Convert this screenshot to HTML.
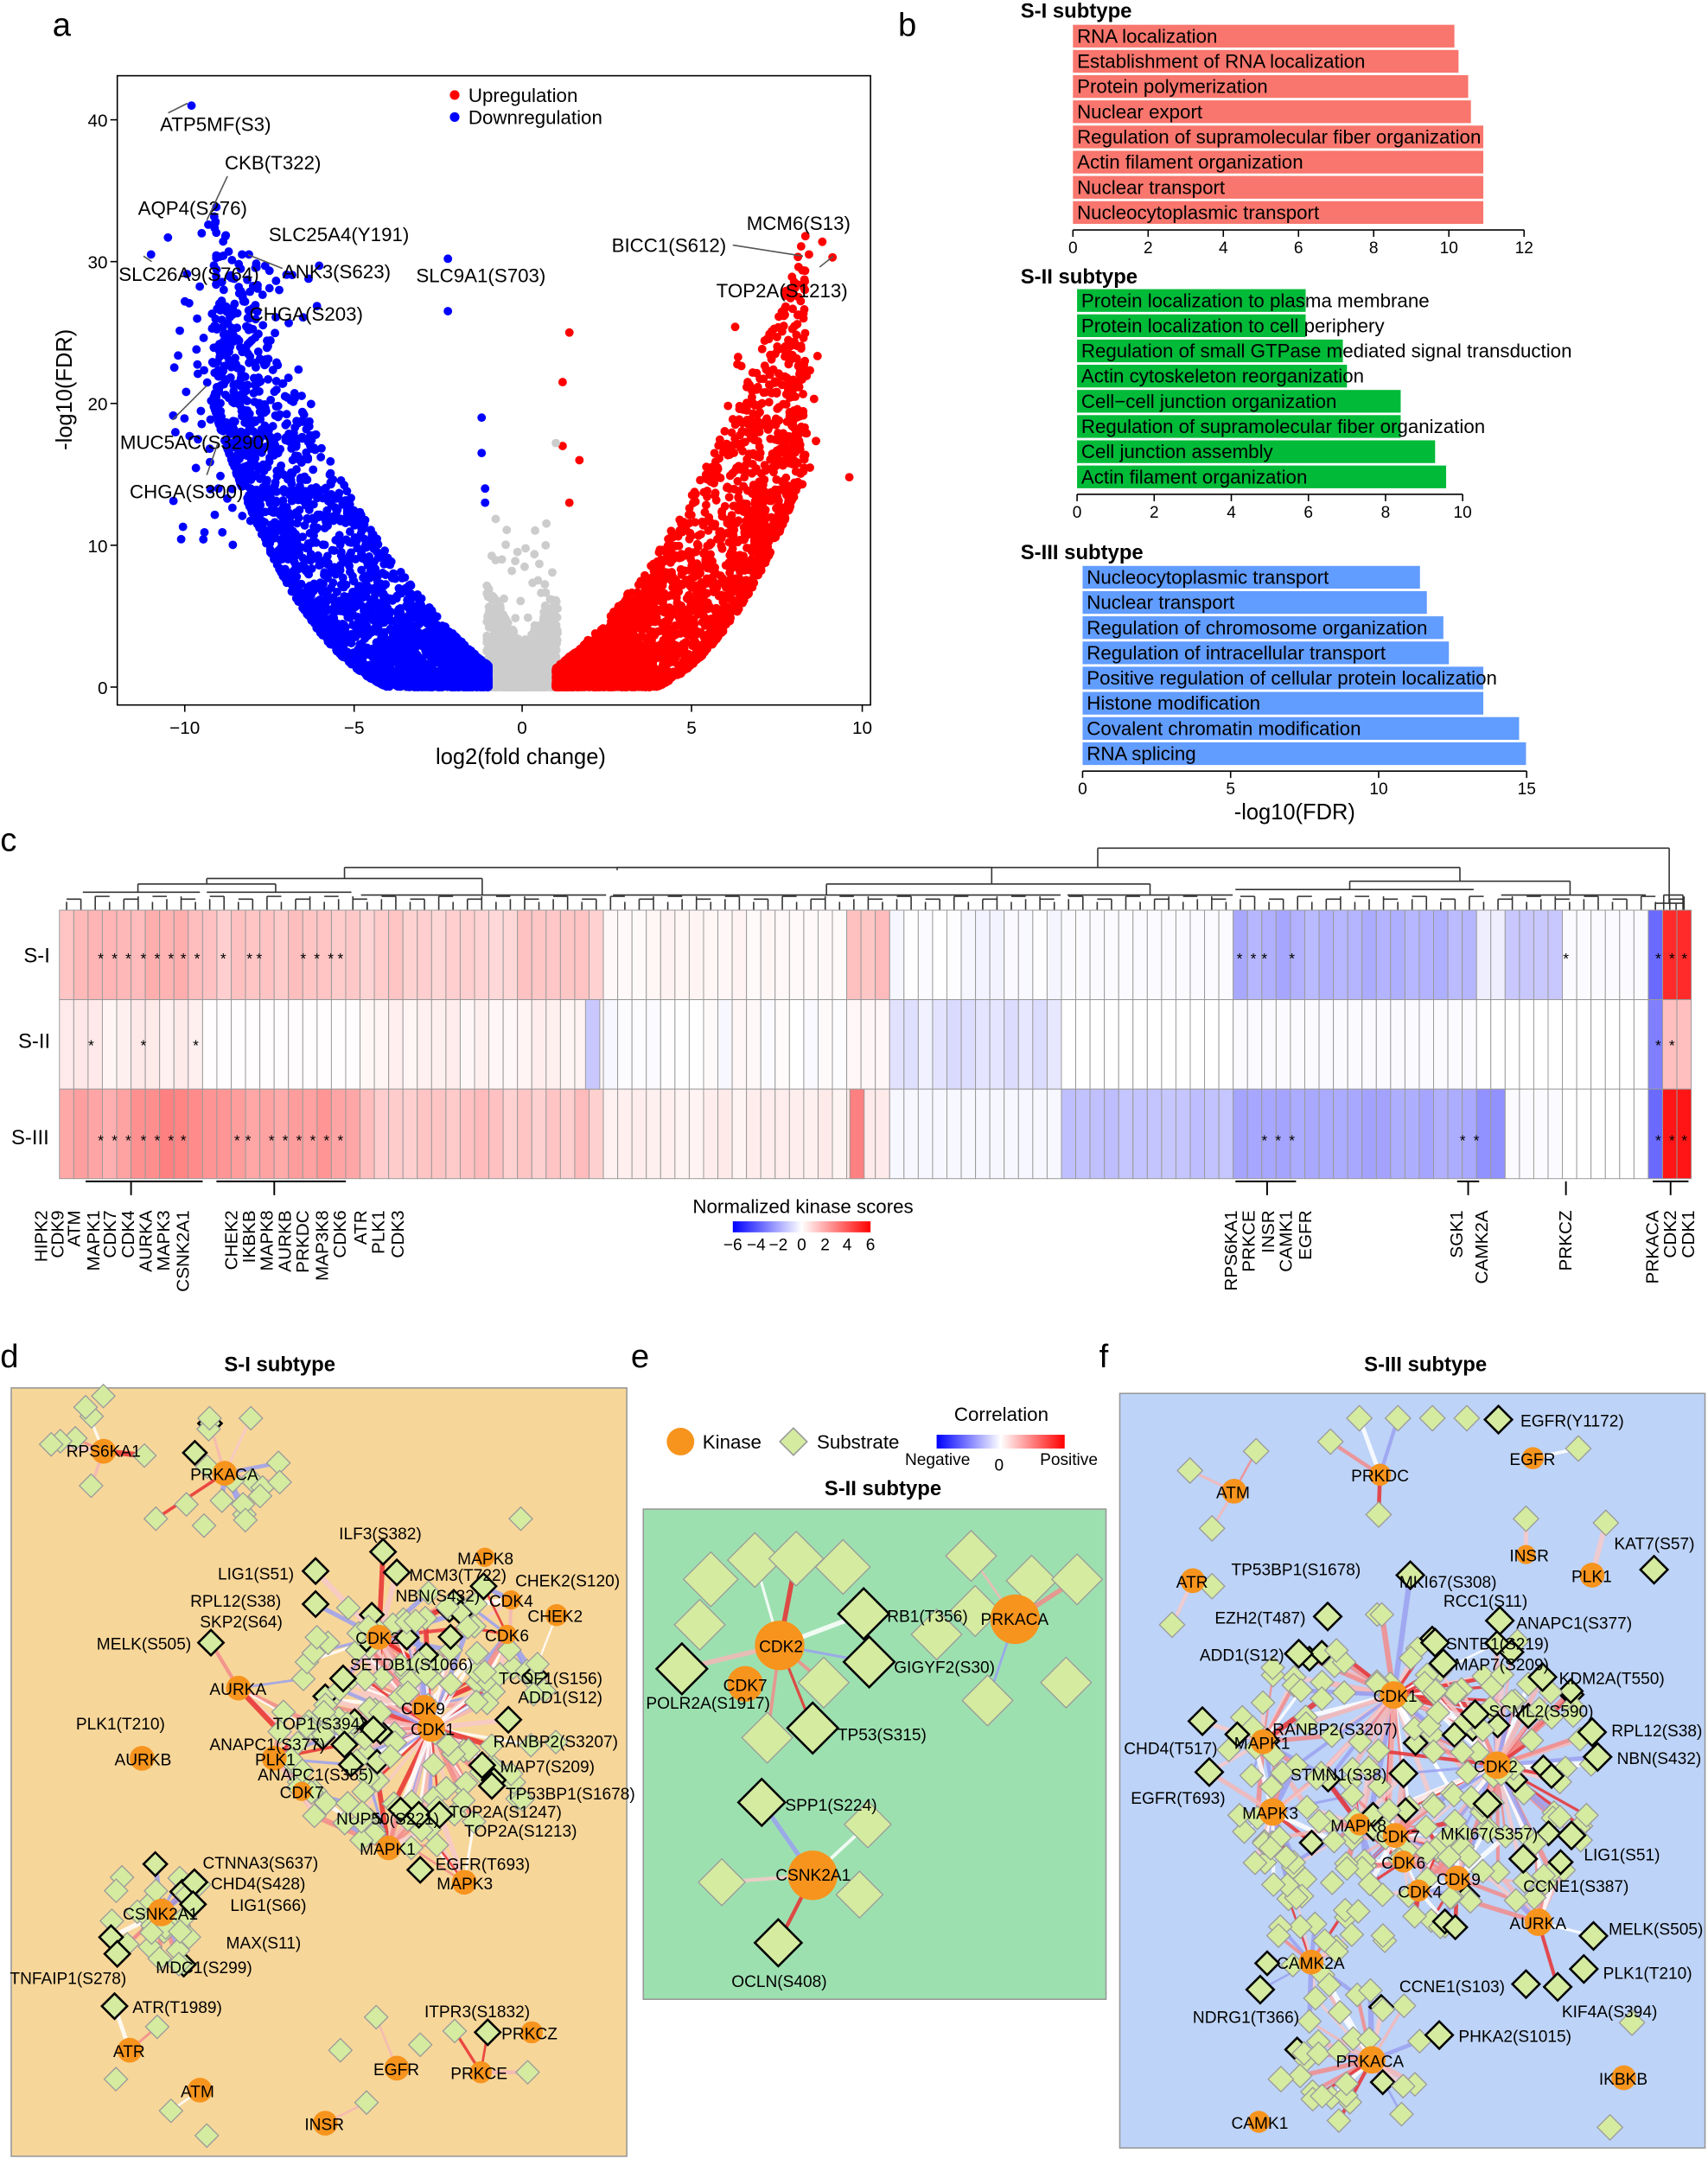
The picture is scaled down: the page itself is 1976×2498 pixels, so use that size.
<!DOCTYPE html>
<html><head><meta charset="utf-8"><style>
html,body{margin:0;padding:0;background:#fff}
svg{display:block}
text{font-family:"Liberation Sans",Arial,sans-serif;fill:#000}
</style></head><body>
<svg id="s" width="1976" height="2498" viewBox="0 0 1240 1568" xmlns="http://www.w3.org/2000/svg">
<defs>
<linearGradient id="hg" x1="0" x2="1"><stop offset="0" stop-color="#0000ff"/><stop offset="0.5" stop-color="#ffffff"/><stop offset="1" stop-color="#ff0000"/></linearGradient>
</defs>
<rect width="1240" height="1568" fill="#fff"/>
<g font-size="24"><text x="38" y="26">a</text><text x="652" y="26">b</text><text x="0" y="618">c</text><text x="0" y="993">d</text><text x="458" y="993">e</text><text x="798" y="993">f</text></g>

<g id="volc"></g>
<rect x="85" y="55" width="547" height="457" fill="none" stroke="#000" stroke-width="1"/>
<g font-size="13" text-anchor="middle">
<line x1="134" y1="512" x2="134" y2="517" stroke="#000"/><text x="134" y="533">−10</text>
<line x1="257" y1="512" x2="257" y2="517" stroke="#000"/><text x="257" y="533">−5</text>
<line x1="379" y1="512" x2="379" y2="517" stroke="#000"/><text x="379" y="533">0</text>
<line x1="502" y1="512" x2="502" y2="517" stroke="#000"/><text x="502" y="533">5</text>
<line x1="626" y1="512" x2="626" y2="517" stroke="#000"/><text x="626" y="533">10</text>
</g>
<g font-size="13" text-anchor="end">
<line x1="80" y1="499" x2="85" y2="499" stroke="#000"/><text x="78" y="504">0</text>
<line x1="80" y1="396" x2="85" y2="396" stroke="#000"/><text x="78" y="401">10</text>
<line x1="80" y1="293" x2="85" y2="293" stroke="#000"/><text x="78" y="298">20</text>
<line x1="80" y1="190" x2="85" y2="190" stroke="#000"/><text x="78" y="195">30</text>
<line x1="80" y1="87" x2="85" y2="87" stroke="#000"/><text x="78" y="92">40</text>
</g>
<text x="378" y="555" font-size="16" text-anchor="middle">log2(fold change)</text>
<text transform="translate(52,283) rotate(-90)" font-size="16" text-anchor="middle">-log10(FDR)</text>
<circle cx="330" cy="69" r="3.5" fill="#f00"/><text x="340" y="74" font-size="14">Upregulation</text>
<circle cx="330" cy="85" r="3.5" fill="#00f"/><text x="340" y="90" font-size="14">Downregulation</text>
<g font-size="14">
<text x="116" y="95">ATP5MF(S3)</text><text x="163" y="123">CKB(T322)</text><text x="100" y="156">AQP4(S276)</text>
<text x="195" y="175">SLC25A4(Y191)</text><text x="86" y="204">SLC26A9(S764)</text><text x="205" y="202">ANK3(S623)</text>
<text x="302" y="205">SLC9A1(S703)</text><text x="181" y="233">CHGA(S203)</text><text x="87" y="326">MUC5AC(S3290)</text>
<text x="94" y="362">CHGA(S300)</text><text x="542" y="167">MCM6(S13)</text><text x="444" y="183">BICC1(S612)</text>
<text x="520" y="216">TOP2A(S1213)</text>
</g>
<g stroke="#555" stroke-width="1">
<line x1="122" y1="82" x2="136" y2="75"/><line x1="165" y1="128" x2="150" y2="160"/><line x1="532" y1="178" x2="583" y2="186"/>
<line x1="595" y1="194" x2="605" y2="186"/><line x1="110" y1="190" x2="104" y2="186"/><line x1="125" y1="305" x2="150" y2="280"/>
<line x1="150" y1="345" x2="158" y2="322"/><line x1="205" y1="195" x2="180" y2="185"/>
</g>

<g font-size="15" font-weight="bold"><text x="741" y="13">S-I subtype</text><text x="741" y="206">S-II subtype</text><text x="741" y="406">S-III subtype</text></g>
<g id="bars"></g>
<text x="940" y="595" font-size="16" text-anchor="middle">-log10(FDR)</text>

<g id="dendro" stroke="#333" stroke-width="1" fill="none"></g>
<g id="heat"></g>
<g font-size="15"><text x="17" y="699">S-I</text><text x="13" y="761">S-II</text><text x="8" y="831">S-III</text></g>
<g id="stars" font-size="11" text-anchor="middle"></g>
<text x="583" y="881" font-size="14" text-anchor="middle">Normalized kinase scores</text>
<rect x="532" y="887" width="100" height="8" fill="url(#hg)"/>
<g font-size="12" text-anchor="middle"><text x="532" y="908">−6</text><text x="549" y="908">−4</text><text x="565" y="908">−2</text><text x="582" y="908">0</text><text x="599" y="908">2</text><text x="615" y="908">4</text><text x="632" y="908">6</text></g>
<g id="klab" font-size="13" text-anchor="end"></g>
<g stroke="#000" stroke-width="1.2">
<line x1="62" y1="858" x2="147" y2="858"/><line x1="95" y1="858" x2="95" y2="868"/>
<line x1="157" y1="858" x2="251" y2="858"/><line x1="199" y1="858" x2="199" y2="868"/>
<line x1="897" y1="858" x2="941" y2="858"/><line x1="920" y1="858" x2="920" y2="868"/>
<line x1="1058" y1="858" x2="1074" y2="858"/><line x1="1066" y1="858" x2="1066" y2="868"/>
<line x1="1137" y1="858" x2="1137" y2="868"/>
<line x1="1200" y1="858" x2="1226" y2="858"/><line x1="1213" y1="858" x2="1213" y2="868"/>
</g>

<text x="203" y="996" font-size="15" font-weight="bold" text-anchor="middle">S-I subtype</text>
<rect x="8" y="1008" width="447" height="558" fill="#f7d699" stroke="#999"/>
<g id="netd"></g>
<g font-size="12">
<text x="48" y="1058">RPS6KA1</text><text x="138" y="1075">PRKACA</text><text x="246" y="1118">ILF3(S382)</text><text x="332" y="1136">MAPK8</text>
<text x="158" y="1147">LIG1(S51)</text><text x="297" y="1148">MCM3(T722)</text><text x="374" y="1152">CHEK2(S120)</text><text x="138" y="1167">RPL12(S38)</text>
<text x="287" y="1163">NBN(S432)</text><text x="355" y="1167">CDK4</text><text x="145" y="1182">SKP2(S64)</text><text x="383" y="1178">CHEK2</text>
<text x="258" y="1194">CDK2</text><text x="352" y="1192">CDK6</text><text x="70" y="1198">MELK(S505)</text><text x="254" y="1213">SETDB1(S1066)</text>
<text x="152" y="1231">AURKA</text><text x="362" y="1223">TCOF1(S156)</text><text x="376" y="1237">ADD1(S12)</text><text x="291" y="1245">CDK9</text>
<text x="198" y="1256">TOP1(S394)</text><text x="298" y="1260">CDK1</text><text x="55" y="1256">PLK1(T210)</text><text x="358" y="1269">RANBP2(S3207)</text>
<text x="152" y="1271">ANAPC1(S377)</text><text x="185" y="1282">PLK1</text><text x="83" y="1282">AURKB</text><text x="363" y="1287">MAP7(S209)</text>
<text x="187" y="1293">ANAPC1(S355)</text><text x="367" y="1307">TP53BP1(S1678)</text><text x="203" y="1306">CDK7</text><text x="244" y="1325">NUP50(S221)</text>
<text x="326" y="1320">TOP2A(S1247)</text><text x="337" y="1334">TOP2A(S1213)</text><text x="261" y="1347">MAPK1</text><text x="316" y="1358">EGFR(T693)</text>
<text x="147" y="1357">CTNNA3(S637)</text><text x="317" y="1372">MAPK3</text><text x="153" y="1372">CHD4(S428)</text><text x="89" y="1394">CSNK2A1</text>
<text x="167" y="1388">LIG1(S66)</text><text x="164" y="1415">MAX(S11)</text><text x="113" y="1433">MDC1(S299)</text><text x="7" y="1441">TNFAIP1(S278)</text>
<text x="96" y="1462">ATR(T1989)</text><text x="308" y="1465">ITPR3(S1832)</text><text x="364" y="1481">PRKCZ</text><text x="82" y="1494">ATR</text>
<text x="271" y="1507">EGFR</text><text x="327" y="1510">PRKCE</text><text x="131" y="1523">ATM</text><text x="221" y="1547">INSR</text>
</g>

<circle cx="494" cy="1047" r="10" fill="#f7941d"/><text x="510" y="1052" font-size="14">Kinase</text>
<rect x="569" y="1040" width="14" height="14" transform="rotate(45 576 1047)" fill="#d4eba0" stroke="#999"/><text x="593" y="1052" font-size="14">Substrate</text>
<text x="727" y="1032" font-size="14" text-anchor="middle">Correlation</text>
<rect x="680" y="1042" width="93" height="10" fill="url(#hg)"/>
<g font-size="12"><text x="657" y="1064">Negative</text><text x="722" y="1068">0</text><text x="755" y="1064">Positive</text></g>
<text x="641" y="1086" font-size="15" font-weight="bold" text-anchor="middle">S-II subtype</text>
<rect x="467" y="1096" width="336" height="356" fill="#9de0b0" stroke="#999"/>
<g id="nete"></g>
<g font-size="12"><text x="644" y="1178">RB1(T356)</text><text x="649" y="1215">GIGYF2(S30)</text><text x="469" y="1241">POLR2A(S1917)</text>
<text x="608" y="1264">TP53(S315)</text><text x="570" y="1315">SPP1(S224)</text><text x="531" y="1443">OCLN(S408)</text>
<text x="551" y="1200">CDK2</text><text x="525" y="1228">CDK7</text><text x="712" y="1180">PRKACA</text><text x="563" y="1366">CSNK2A1</text></g>

<text x="1035" y="996" font-size="15" font-weight="bold" text-anchor="middle">S-III subtype</text>
<rect x="813" y="1012" width="425" height="548" fill="#bdd3f7" stroke="#999"/>
<g id="netf"></g>
<g font-size="12">
<text x="1104" y="1036">EGFR(Y1172)</text><text x="1172" y="1125">KAT7(S57)</text><text x="894" y="1144">TP53BP1(S1678)</text><text x="1016" y="1153">MKI67(S308)</text>
<text x="1048" y="1167">RCC1(S11)</text><text x="882" y="1179">EZH2(T487)</text><text x="1101" y="1183">ANAPC1(S377)</text><text x="1050" y="1198">SNTB1(S219)</text>
<text x="871" y="1206">ADD1(S12)</text><text x="1056" y="1213">MAP7(S209)</text><text x="1132" y="1223">KDM2A(T550)</text><text x="1081" y="1247">SCML2(S590)</text>
<text x="924" y="1260">RANBP2(S3207)</text><text x="1170" y="1261">RPL12(S38)</text><text x="816" y="1274">CHD4(T517)</text><text x="1174" y="1281">NBN(S432)</text>
<text x="937" y="1293">STMN1(S38)</text><text x="821" y="1310">EGFR(T693)</text><text x="1046" y="1336">MKI67(S357)</text><text x="1150" y="1351">LIG1(S51)</text>
<text x="1106" y="1374">CCNE1(S387)</text><text x="1168" y="1405">MELK(S505)</text><text x="1164" y="1437">PLK1(T210)</text><text x="866" y="1469">NDRG1(T366)</text>
<text x="1016" y="1447">CCNE1(S103)</text><text x="1134" y="1465">KIF4A(S394)</text><text x="1059" y="1483">PHKA2(S1015)</text>
<text x="1096" y="1064">EGFR</text><text x="981" y="1076">PRKDC</text><text x="883" y="1088">ATM</text><text x="1096" y="1134">INSR</text><text x="1141" y="1149">PLK1</text>
<text x="854" y="1153">ATR</text><text x="997" y="1236">CDK1</text><text x="1070" y="1287">CDK2</text><text x="896" y="1270">MAPK1</text><text x="902" y="1321">MAPK3</text>
<text x="966" y="1330">MAPK8</text><text x="999" y="1338">CDK7</text><text x="1003" y="1357">CDK6</text><text x="1043" y="1369">CDK9</text><text x="1015" y="1378">CDK4</text>
<text x="1096" y="1401">AURKA</text><text x="927" y="1430">CAMK2A</text><text x="970" y="1501">PRKACA</text><text x="1161" y="1514">IKBKB</text><text x="894" y="1546">CAMK1</text>
</g>
</svg>
<script>
(function(){
var NS="http://www.w3.org/2000/svg";
function el(p,t,a){var e=document.createElementNS(NS,t);for(var k in a)e.setAttribute(k,a[k]);p.appendChild(e);return e;}
var seed=7;function r(){seed=(seed*16807)%2147483647;return seed/2147483647;}
var v=document.getElementById('volc');
function px(x){return 379+x*24.5;} function py(y){return 499-y*10.3;}
var pts=[];
for(var i=0;i<1500;i++){var x=(r()*2-1)*3.5;var y=Math.pow(r(),2)*(0.6+Math.max(0,1.5-Math.abs(x)*0.3));pts.push([x,y,'#cccccc']);}
for(var i=0;i<1300;i++){var x=(r()*2-1)*1.05;var y=Math.pow(r(),2.5)*(3+Math.abs(x)*4);if(r()<0.03)y+=r()*10;pts.push([x,y,'#cccccc']);}
function side(sign,n,a,b2,maxx,colr){
 for(var i=0;i<n;i++){var ax=1+Math.pow(r(),1.5)*maxx;var mx=a*ax+b2*ax*ax;var lo=Math.max(0,(ax-4)/9);var u=lo+(1-lo)*Math.pow(r(),1.8);pts.push([sign*ax,mx*u*1.08,colr]);}
}
side(-1,2800,1.2,0.25,8.2,'#0000ff');
for(var i=0;i<110;i++){var x=-(6+r()*4.5);var y=10+r()*20;pts.push([x,y,'#0000ff']);}
side(1,2800,1.0,0.3,7.4,'#ff0000');
for(var i=0;i<40;i++){var x=6+r()*2.8;pts.push([x,14+r()*12,'#ff0000']);}
var extra=[[-9.8,41,'#00f'],[-10.5,31.7,'#00f'],[-9.5,32,'#00f'],[-9.3,32.6,'#00f'],[-8.3,30.5,'#00f'],[-8.1,30.5,'#00f'],[-11,30.5,'#00f'],[-2.2,30.2,'#00f'],[-2.2,26.5,'#00f'],[-7.2,28,'#00f'],[8.5,30.5,'#f00'],[8.9,31.4,'#f00'],[9.2,30.3,'#f00'],[1.4,25,'#f00'],[1.2,21.5,'#f00'],[9.7,14.8,'#f00'],[-1.2,19,'#00f'],[-1.2,16.5,'#00f'],[-1.1,14,'#00f'],[-1.1,13,'#00f'],[1.2,17,'#f00'],[1.7,16,'#f00'],[1.4,13,'#f00'],[-9,14,'#00f'],[-8.5,20.5,'#00f'],[1,17.2,'#ccc'],[0.7,10,'#ccc'],[-0.6,9,'#ccc']];
extra.forEach(function(p){pts.push(p)});
pts.forEach(function(p){var cy=py(p[1]);if(cy<60)return;el(v,'circle',{cx:px(p[0]).toFixed(1),cy:cy.toFixed(1),r:3.1,fill:p[2]});});
var b=document.getElementById('bars');
function barset(x0,unit,top,ends,col,ax,ticks,labs){
 ends.forEach(function(e,i){var y=top+i*18.3;el(b,'rect',{x:x0,y:y,width:e-x0,height:16.5,fill:col});var t=el(b,'text',{x:x0+3,y:y+13,'font-size':14});t.textContent=labs[i];});
 el(b,'line',{x1:x0,y1:ax,x2:x0+ticks[ticks.length-1]*unit,y2:ax,stroke:'#000'});
 ticks.forEach(function(k){var xx=x0+k*unit;el(b,'line',{x1:xx,y1:ax,x2:xx,y2:ax+5,stroke:'#000'});var t=el(b,'text',{x:xx,y:ax+17,'font-size':12,'text-anchor':'middle'});t.textContent=k;});
}
barset(779,27.3,18,[1056,1059,1066,1068,1077,1077,1077,1077],'#f8766d',167,[0,2,4,6,8,10,12],['RNA localization','Establishment of RNA localization','Protein polymerization','Nuclear export','Regulation of supramolecular fiber organization','Actin filament organization','Nuclear transport','Nucleocytoplasmic transport']);
barset(782,28,210,[948,948,975,978,1017,1017,1042,1050],'#00ba38',359,[0,2,4,6,8,10],['Protein localization to plasma membrane','Protein localization to cell periphery','Regulation of small GTPase mediated signal transduction','Actin cytoskeleton reorganization','Cell−cell junction organization','Regulation of supramolecular fiber organization','Cell junction assembly','Actin filament organization']);
barset(786,21.5,411,[1031,1036,1048,1052,1077,1077,1103,1108],'#619cff',560,[0,5,10,15],['Nucleocytoplasmic transport','Nuclear transport','Regulation of chromosome organization','Regulation of intracellular transport','Positive regulation of cellular protein localization','Histone modification','Covalent chromatin modification','RNA splicing']);
var h=document.getElementById('heat');var N=114,X0=43,W=(1228-43)/N;
function col(vv){vv=Math.max(-6,Math.min(6,vv));var t=Math.abs(vv)/6;var c=Math.round(255*(1-t));return vv>=0?'rgb(255,'+c+','+c+')':'rgb('+c+','+c+',255)';}
function vals(xc){
 if(xc<147)return[1.3+r()*0.6,0.2+r()*0.4,1.8+(xc>95?0.8:0)+r()*0.5];
 if(xc<257)return[1.1+r()*0.5,0.05,2.0+r()*0.6];
 if(xc<440)return[0.9+r()*0.6,0.15+r()*0.3,1.0+r()*0.6];
 if(xc<610)return[0.1+r()*0.2,(r()-0.5)*0.4,0.2+r()*0.3];
 if(xc<650)return[1.2+r()*0.5,0.2,0.5];
 if(xc<770)return[-0.3+r()*0.3,-0.3-r()*0.6,-0.2];
 if(xc<895)return[-0.1,0.0,-1.3-r()*0.3];
 if(xc<1070)return[-1.6-r()*0.5,-0.1,-1.8-r()*0.4];
 if(xc<1090)return[-0.4,0,-2.6];
 if(xc<1130)return[-1.3,0,-0.1];
 if(xc<1197)return[-0.1,0,0];
 if(xc<1208)return[-3.5,-3,-3.5];
 return[5,1.5,5.5];}
for(var i=0;i<N;i++){var x=X0+i*W;var vv=vals(x+W/2);for(var j=0;j<3;j++){el(h,'rect',{x:x.toFixed(2),y:661+j*65,width:W.toFixed(2),height:65,fill:col(vv[j]),stroke:'#999','stroke-width':0.6});}}
el(h,'rect',{x:425,y:726,width:W,height:65,fill:col(-1.3),stroke:'#999','stroke-width':0.6});
el(h,'rect',{x:617,y:791,width:W,height:65,fill:col(3),stroke:'#999','stroke-width':0.6});
var st=document.getElementById('stars');
function stars(xs,y){xs.forEach(function(x){var t=el(st,'text',{x:x,y:y});t.textContent='*';});}
stars([73,83,93,104,114,124,133,143,162,181,188,220,230,240,247,900,910,918,938,1137,1204,1214,1223],700);
stars([66,104,142,1204,1214],763);
stars([73,83,93,104,114,124,133,172,180,197,207,217,227,237,247,918,928,938,1062,1072,1204,1214,1223],832);
var d=document.getElementById('dendro');
function L(x1,y1,x2,y2){el(d,'line',{x1:x1,y1:y1,x2:x2,y2:y2});}
for(var i=0;i<N;i++){var x=X0+i*W+W/2;L(x,661,x,655-(i%3)*2);}
for(var i=0;i<N-1;i+=2){var x=X0+i*W+W/2;L(x,653-(i%4),x+W,653-(i%4));}
L(60,648,145,648);L(150,648,255,648);L(100,642,200,642);L(100,642,100,648);L(200,642,200,648);
L(262,650,440,650);L(150,638,350,638);L(150,638,150,642);L(350,638,350,650);
L(445,650,770,650);L(775,650,895,650);L(897,646,1070,646);L(1090,650,1195,650);
L(600,642,600,650);L(835,642,835,650);L(600,642,835,642);L(980,640,980,646);L(1140,640,1140,650);L(980,640,1140,640);
L(250,630,720,630);L(250,630,250,638);L(720,630,720,642);L(1060,630,1060,640);
L(448,632,448,630);L(448,630,1060,630);
L(797,616,797,630);L(797,616,1212,616);L(1212,616,1212,656);L(1202,656,1222,656);L(1217,656,1217,661);L(1202,656,1202,661);
L(1212,656,1212,650);L(1208,650,1222,650);L(1208,650,1208,661);L(1222,650,1222,661);
var kl=document.getElementById('klab');
[['HIPK2',34],['CDK9',46],['ATM',58],['MAPK1',72],['CDK7',84],['CDK4',97],['AURKA',110],['MAPK3',123],['CSNK2A1',137],['CHEK2',172],['IKBKB',185],['MAPK8',198],['AURKB',211],['PRKDC',224],['MAP3K8',238],['CDK6',251],['ATR',266],['PLK1',279],['CDK3',293],['RPS6KA1',898],['PRKCE',911],['INSR',925],['CAMK1',938],['EGFR',952],['SGK1',1062],['CAMK2A',1080],['PRKCZ',1141],['PRKACA',1204],['CDK2',1217],['CDK1',1230]].forEach(function(k){var t=el(kl,'text',{transform:'translate('+k[1]+',879) rotate(-90)'});t.textContent=k[0];});
function net(gid,kin,subs){
 var g=document.getElementById(gid);var eg=el(g,'g',{});var sg=el(g,'g',{});var kg=el(g,'g',{});
 var ecol=['#f28b8b','#f4b6b6','#ffffff','#9aa0f0','#e83030','#f7c9c9'];
 subs.forEach(function(s){var sz=s[2]||6;el(sg,'rect',{x:s[0]-sz,y:s[1]-sz,width:2*sz,height:2*sz,transform:'rotate(45 '+s[0]+' '+s[1]+')',fill:'#d4eba0',stroke:s[3]?'#000':'#999','stroke-width':s[3]?1.6:0.8});});
 kin.forEach(function(k){var rr=k[2]||9;
   subs.forEach(function(s){var dx=s[0]-k[0],dy=s[1]-k[1];if(dx*dx+dy*dy<(k[3]||60)*(k[3]||60)&&r()<0.7){el(eg,'line',{x1:k[0],y1:k[1],x2:s[0],y2:s[1],stroke:ecol[Math.floor(r()*ecol.length)],'stroke-width':1.5+r()*2.5,'stroke-opacity':0.85});}});
   el(kg,'circle',{cx:k[0],cy:k[1],r:rr,fill:'#f7941d'});});
}
function scat(cx,cy,rad,n,out,sz){for(var i=0;i<n;i++){var a=r()*6.283,rr=Math.sqrt(r())*rad;out.push([cx+Math.cos(a)*rr,cy+Math.sin(a)*rr*0.9,sz||6,r()<0.12]);}}
var sd=[];scat(300,1250,105,150,sd);scat(120,1390,45,30,sd);scat(165,1070,45,14,sd);scat(75,1045,35,5,sd);
[[278,1127],[288,1142],[229,1141],[229,1165],[351,1152],[153,1193],[249,1219],[369,1249],[271,1256],[250,1267],[350,1282],[357,1297],[304,1318],[319,1318],[305,1358],[141,1367],[140,1383],[85,1419],[83,1457],[354,1476]].forEach(function(p){sd.push([p[0],p[1],6.5,true]);});
[[62,1022],[37,1049],[152,1030],[182,1030],[66,1079],[113,1103],[148,1108],[178,1104],[273,1465],[247,1489],[266,1527],[150,1551],[124,1533],[84,1510],[114,1472],[305,1485],[330,1475],[383,1505],[378,1103]].forEach(function(p){sd.push([p[0],p[1],6,false]);});
net('netd',[[75,1054,9,40],[163,1070,9,60],[275,1189,9,70],[371,1162,7,40],[404,1173,8,40],[368,1187,7,40],[173,1226,9,60],[308,1240,9,70],[313,1255,10,80],[199,1277,9,60],[103,1277,9,50],[219,1301,7,40],[282,1342,9,60],[337,1367,9,60],[117,1389,10,55],[94,1489,9,40],[288,1502,9,40],[349,1505,8,40],[145,1518,9,40],[236,1542,9,40],[386,1476,8,30],[352,1131,7,40]],sd);
var se=[[516,1147,14],[548,1133,14],[578,1132,14],[612,1138,14],[627,1172,13,true],[631,1207,13,true],[495,1212,13,true],[508,1180,13],[598,1222,13],[590,1255,13,true],[557,1262,13],[680,1187,13],[705,1130,13],[708,1170,13],[749,1148,13],[782,1147,13],[774,1222,13],[717,1235,13],[553,1309,12,true],[630,1325,12],[524,1367,12],[624,1376,12],[565,1411,12,true]];
net('nete',[[566,1195,18,110],[541,1223,13,40],[737,1176,18,70],[590,1362,18,70]],se);
var sf=[];scat(1025,1290,135,210,sf);scat(990,1490,60,30,sf);scat(950,1420,40,12,sf);
[[1088,1031],[1201,1140],[1024,1144],[964,1174],[1089,1177],[1042,1193],[1048,1208],[943,1201],[1120,1218],[1071,1245],[1156,1258],[873,1250],[1160,1276],[1019,1288],[878,1287],[1080,1310],[1141,1333],[1106,1350],[1157,1406],[1150,1430],[915,1445],[1108,1441],[1131,1443],[1045,1478]].forEach(function(p){sf.push([p[0],p[1],7,true]);});
[[864,1068],[912,1054],[966,1047],[987,1030],[1015,1030],[1040,1030],[1065,1030],[1146,1052],[1001,1100],[1108,1103],[1166,1106],[1185,1469],[1169,1545],[930,1510],[880,1152],[851,1180],[880,1110]].forEach(function(p){sf.push([p[0],p[1],6.5,false]);});
net('netf',[[1113,1059,8,40],[1002,1071,8,70],[896,1083,9,40],[1108,1129,7,40],[1156,1144,9,60],[866,1148,9,40],[1012,1231,10,90],[1087,1282,10,90],[917,1265,9,60],[924,1316,10,60],[987,1325,8,60],[1013,1333,9,50],[1019,1352,8,40],[1058,1364,9,50],[1030,1373,8,40],[1117,1396,10,60],[952,1425,9,50],[996,1496,10,70],[1179,1509,9,30],[914,1541,8,30]],sf);
})();
</script>
</body></html>
